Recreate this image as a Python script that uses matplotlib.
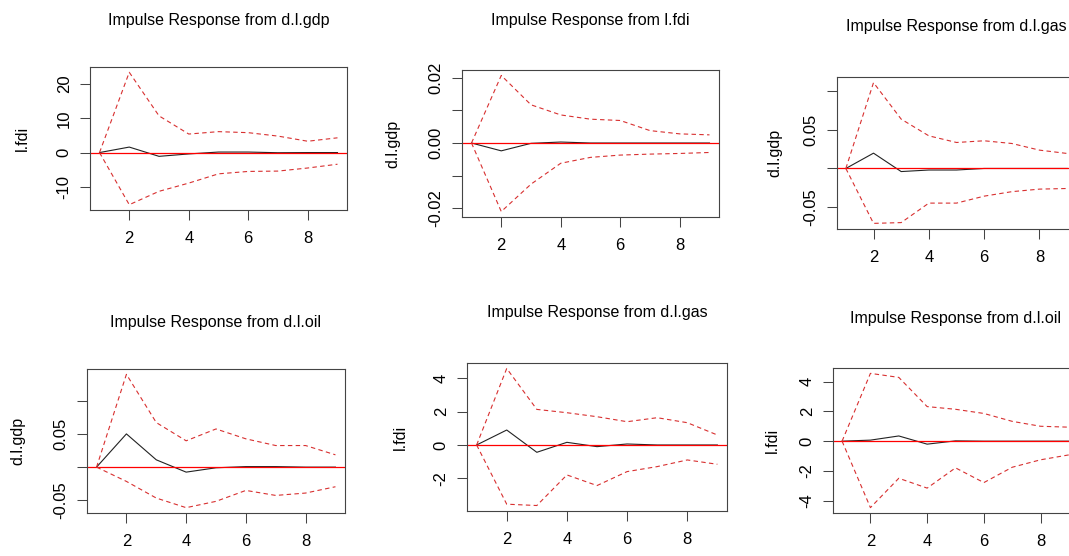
import numpy as np
import matplotlib
matplotlib.use('Agg')
import matplotlib.pyplot as plt

plt.rcParams['font.family'] = ['Liberation Sans', 'DejaVu Sans']

steps = [1, 2, 3, 4, 5, 6, 7, 8, 9]

# l.fdi response to d.l.gdp
irf1 = [0, 1.6, -1.1, -0.4, 0.15, 0.15, -0.05, 0.0, 0.0]
up1 = [0, 23.4, 10.7, 5.4, 6.1, 5.8, 4.8, 3.3, 4.3]
lo1 = [0, -15.2, -11.3, -8.9, -6.2, -5.5, -5.4, -4.5, -3.4]

# d.l.gdp response to l.fdi
irf2 = [0, -0.0024, -0.0001, 0.0003, 0.0, 0.0, 0.0, 0.0, 0.0]
up2 = [0, 0.0207, 0.0117, 0.0086, 0.0073, 0.0069, 0.0038, 0.0028, 0.0025]
lo2 = [0, -0.021, -0.0126, -0.0062, -0.0044, -0.0037, -0.0034, -0.0032, -0.0029]

# d.l.gdp response to d.l.gas
irf3 = [0, 0.0198, -0.004, -0.002, -0.002, 0.0, 0.0, 0.0, 0.0]
up3 = [0, 0.111, 0.0638, 0.0422, 0.0336, 0.0358, 0.0323, 0.0237, 0.0194]
lo3 = [0, -0.071, -0.070, -0.0448, -0.0448, -0.0358, -0.030, -0.0267, -0.0259]

# d.l.gdp response to d.l.oil
irf4 = [0, 0.0505, 0.0111, -0.0076, -0.001, 0.0008, 0.0008, 0.0, 0.0]
up4 = [0, 0.141, 0.0677, 0.040, 0.058, 0.043, 0.0328, 0.0328, 0.0187]
lo4 = [0, -0.0217, -0.047, -0.0616, -0.052, -0.0354, -0.043, -0.0394, -0.0298]

# l.fdi response to d.l.gas
irf5 = [0, 0.9, -0.44, 0.16, -0.1, 0.06, 0.0, 0.0, 0.0]
up5 = [0, 4.6, 2.14, 1.94, 1.7, 1.4, 1.64, 1.34, 0.6]
lo5 = [0, -3.56, -3.64, -1.8, -2.44, -1.6, -1.3, -0.9, -1.16]

# l.fdi response to d.l.oil
irf6 = [0, 0.07, 0.35, -0.2, 0.02, 0.0, 0.0, 0.0, 0.0]
up6 = [0, 4.55, 4.28, 2.32, 2.14, 1.86, 1.33, 1.0, 0.94]
lo6 = [0, -4.46, -2.49, -3.15, -1.79, -2.78, -1.75, -1.25, -0.92]

titles = ['Impulse Response from d.l.gdp', 'Impulse Response from l.fdi',
          'Impulse Response from d.l.gas', 'Impulse Response from d.l.oil',
          'Impulse Response from d.l.gas', 'Impulse Response from d.l.oil']
ylabels = ['l.fdi', 'd.l.gdp', 'd.l.gdp', 'd.l.gdp', 'l.fdi', 'l.fdi']

yticks = [[-10, 0, 10, 20], [-0.02, -0.01, 0.0, 0.01, 0.02], [-0.05, 0.0, 0.05, 0.10],
          [-0.05, 0.0, 0.05, 0.10], [-2, 0, 2, 4], [-4, -2, 0, 2, 4]]
yticklabels = [['-10', '0', '10', '20'], ['-0.02', '', '0.00', '', '0.02'], ['-0.05', '', '0.05', ''],
               ['-0.05', '', '0.05', ''], ['-2', '0', '2', '4'], ['-4', '-2', '0', '2', '4']]

# pixel boxes: left, right, top, bottom ; title y ; ylabel x
boxes = [(90, 347, 67, 210), (462, 719, 70, 217), (837, 1076, 77, 229),
         (87, 345, 369, 513), (467, 727, 363, 511), (833, 1078, 368, 513)]
title_y = [20, 20, 26, 322, 313, 318]
ylab_x = [22, 393, 775, 18, 400, 772]

W, H = 1069, 556
fig = plt.figure(figsize=(W / 100, H / 100), dpi=100)

data = [(irf1, up1, lo1), (irf2, up2, lo2), (irf3, up3, lo3),
        (irf4, up4, lo4), (irf5, up5, lo5), (irf6, up6, lo6)]

for k in range(6):
    l, r, t, b = boxes[k]
    ax = fig.add_axes([l / W, 1 - b / H, (r - l) / W, (b - t) / H])
    irf, up, lo = data[k]
    ax.plot(steps, irf, color='#222222', lw=0.8)
    ax.axhline(0, color='red', lw=0.9)
    ax.plot(steps, up, color='#d83030', lw=0.8, dashes=(4, 3))
    ax.plot(steps, lo, color='#d83030', lw=0.8, dashes=(4, 3))
    ax.margins(x=0.04, y=0.04)
    ax.set_xticks([2, 4, 6, 8])
    ax.set_yticks(yticks[k])
    ax.set_yticklabels(yticklabels[k], rotation=90, va='center')
    ax.tick_params(axis='both', length=7.2, width=0.75, color='#444444', labelsize=12)
    ax.tick_params(axis='x', pad=8)
    ax.tick_params(axis='y', pad=6)
    for s in ax.spines.values():
        s.set_color('#444444')
        s.set_linewidth(0.8)
    fig.text((l + r) / 2 / W, 1 - title_y[k] / H, titles[k], ha='center', va='center', fontsize=11.5)
    fig.text(ylab_x[k] / W, 1 - (t + b) / 2 / H, ylabels[k], ha='center', va='center',
             rotation=90, fontsize=11.5)

fig.savefig('out.png', dpi=100)
